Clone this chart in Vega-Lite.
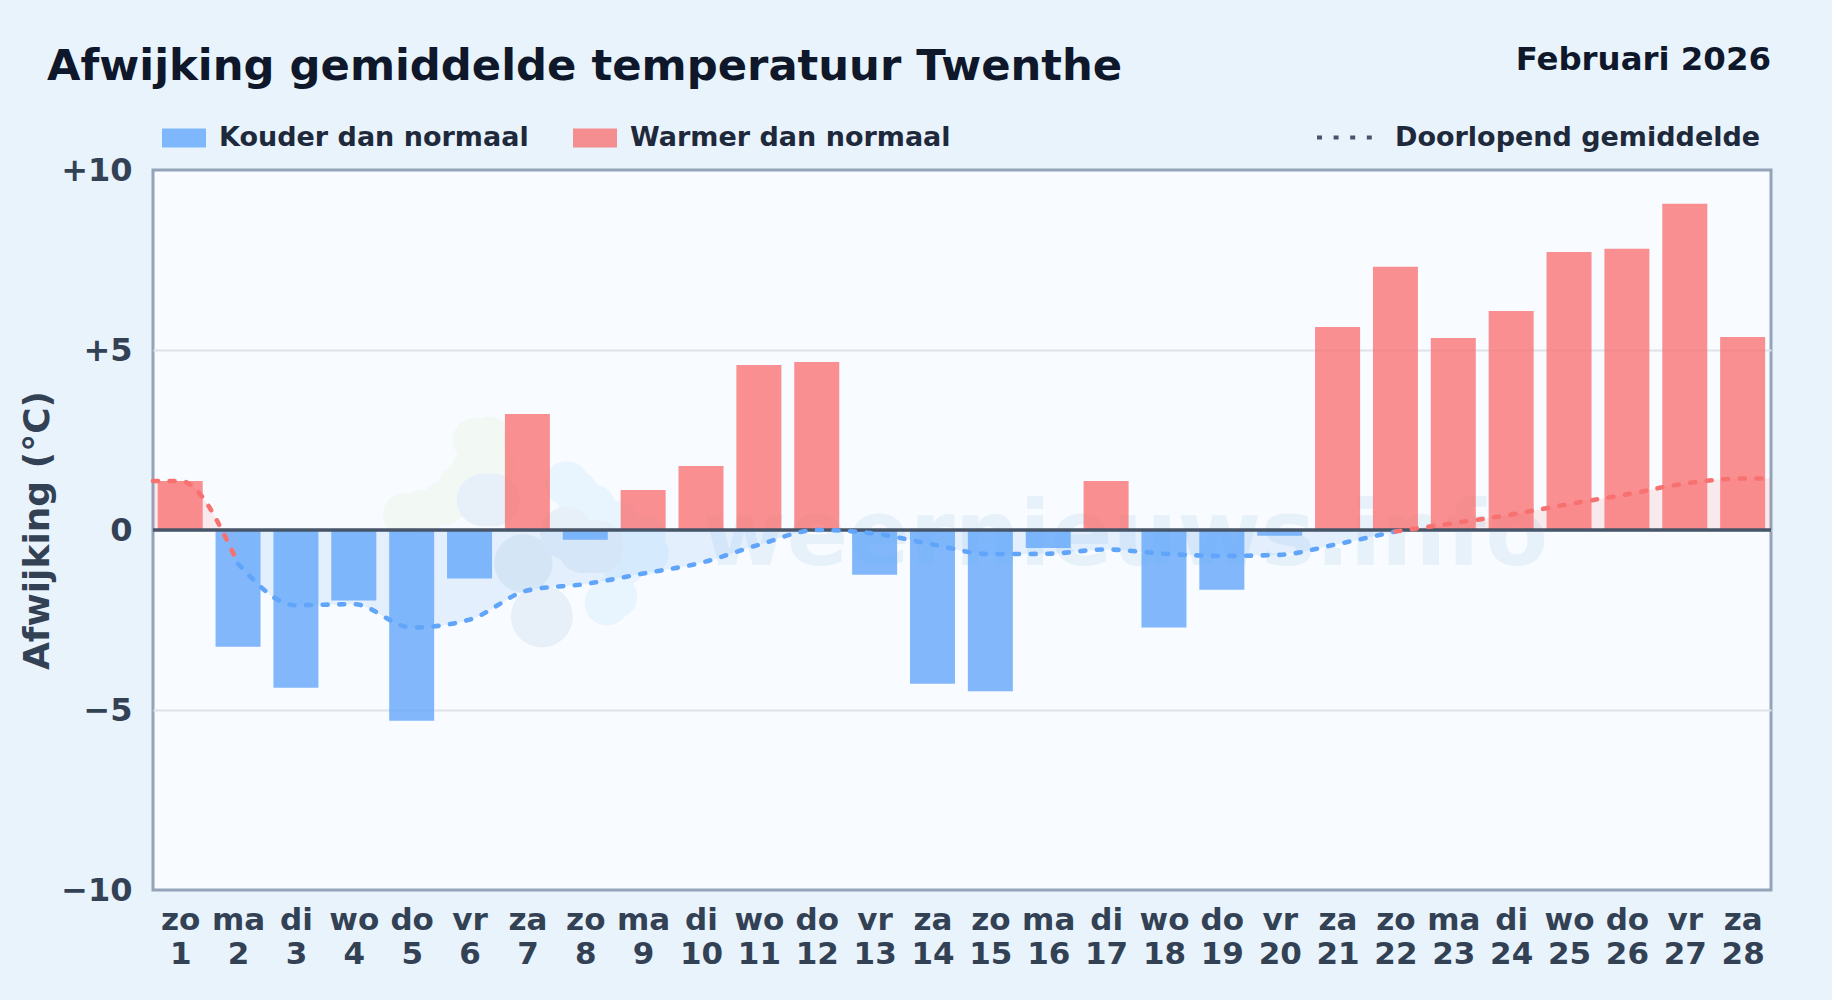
{
"$schema":"https://vega.github.io/schema/vega-lite/v6.json",
"autosize":{"type":"none"},
"width":1618,"height":720,
"padding":{"left":153,"top":170,"right":61,"bottom":110},
"background":"#e9f3fc",
"config":{"font":"DejaVu Sans","view":{"fill":"#f8fbff","stroke":"#94a3b8","strokeWidth":3},"scale":{"continuousPadding":0}},
"title":{"text":"Afwijking gemiddelde temperatuur Twenthe","anchor":"start","frame":"group","dx":-106,"offset":-79,"baseline":"alphabetic","fontSize":43.3,"fontWeight":"bold","color":"#0f172a","font":"DejaVu Sans"},
"datasets":{
"dagen":[
{"dag":1,"afwijking":1.36,"soort":"Warmer dan normaal"},
{"dag":2,"afwijking":-3.24,"soort":"Kouder dan normaal"},
{"dag":3,"afwijking":-4.38,"soort":"Kouder dan normaal"},
{"dag":4,"afwijking":-1.96,"soort":"Kouder dan normaal"},
{"dag":5,"afwijking":-5.3,"soort":"Kouder dan normaal"},
{"dag":6,"afwijking":-1.35,"soort":"Kouder dan normaal"},
{"dag":7,"afwijking":3.22,"soort":"Warmer dan normaal"},
{"dag":8,"afwijking":-0.27,"soort":"Kouder dan normaal"},
{"dag":9,"afwijking":1.11,"soort":"Warmer dan normaal"},
{"dag":10,"afwijking":1.78,"soort":"Warmer dan normaal"},
{"dag":11,"afwijking":4.58,"soort":"Warmer dan normaal"},
{"dag":12,"afwijking":4.67,"soort":"Warmer dan normaal"},
{"dag":13,"afwijking":-1.24,"soort":"Kouder dan normaal"},
{"dag":14,"afwijking":-4.27,"soort":"Kouder dan normaal"},
{"dag":15,"afwijking":-4.48,"soort":"Kouder dan normaal"},
{"dag":16,"afwijking":-0.5,"soort":"Kouder dan normaal"},
{"dag":17,"afwijking":1.36,"soort":"Warmer dan normaal"},
{"dag":18,"afwijking":-2.71,"soort":"Kouder dan normaal"},
{"dag":19,"afwijking":-1.66,"soort":"Kouder dan normaal"},
{"dag":20,"afwijking":-0.16,"soort":"Kouder dan normaal"},
{"dag":21,"afwijking":5.64,"soort":"Warmer dan normaal"},
{"dag":22,"afwijking":7.31,"soort":"Warmer dan normaal"},
{"dag":23,"afwijking":5.33,"soort":"Warmer dan normaal"},
{"dag":24,"afwijking":6.08,"soort":"Warmer dan normaal"},
{"dag":25,"afwijking":7.72,"soort":"Warmer dan normaal"},
{"dag":26,"afwijking":7.81,"soort":"Warmer dan normaal"},
{"dag":27,"afwijking":9.06,"soort":"Warmer dan normaal"},
{"dag":28,"afwijking":5.36,"soort":"Warmer dan normaal"}
],
"gemiddelde":[
{"dag":0.53,"waarde":1.36,"kleur":"warm","deel":"a"},
{"dag":1,"waarde":1.36,"kleur":"warm","deel":"a"},
{"dag":2,"waarde":-0.94,"kleur":"warm","deel":"a"},
{"dag":2,"waarde":-0.94,"kleur":"koud","deel":"b"},
{"dag":3,"waarde":-2.09,"kleur":"koud","deel":"b"},
{"dag":4,"waarde":-2.06,"kleur":"koud","deel":"b"},
{"dag":5,"waarde":-2.71,"kleur":"koud","deel":"b"},
{"dag":6,"waarde":-2.49,"kleur":"koud","deel":"b"},
{"dag":7,"waarde":-1.68,"kleur":"koud","deel":"b"},
{"dag":8,"waarde":-1.5,"kleur":"koud","deel":"b"},
{"dag":9,"waarde":-1.21,"kleur":"koud","deel":"b"},
{"dag":10,"waarde":-0.91,"kleur":"koud","deel":"b"},
{"dag":11,"waarde":-0.41,"kleur":"koud","deel":"b"},
{"dag":12,"waarde":0,"kleur":"koud","deel":"b"},
{"dag":13,"waarde":-0.1,"kleur":"koud","deel":"b"},
{"dag":14,"waarde":-0.4,"kleur":"koud","deel":"b"},
{"dag":15,"waarde":-0.67,"kleur":"koud","deel":"b"},
{"dag":16,"waarde":-0.66,"kleur":"koud","deel":"b"},
{"dag":17,"waarde":-0.54,"kleur":"koud","deel":"b"},
{"dag":18,"waarde":-0.66,"kleur":"koud","deel":"b"},
{"dag":19,"waarde":-0.72,"kleur":"koud","deel":"b"},
{"dag":20,"waarde":-0.69,"kleur":"koud","deel":"b"},
{"dag":21,"waarde":-0.39,"kleur":"koud","deel":"b"},
{"dag":22,"waarde":-0.04,"kleur":"koud","deel":"b"},
{"dag":22,"waarde":-0.04,"kleur":"warm","deel":"c"},
{"dag":23,"waarde":0.19,"kleur":"warm","deel":"c"},
{"dag":24,"waarde":0.43,"kleur":"warm","deel":"c"},
{"dag":25,"waarde":0.72,"kleur":"warm","deel":"c"},
{"dag":26,"waarde":0.99,"kleur":"warm","deel":"c"},
{"dag":27,"waarde":1.29,"kleur":"warm","deel":"c"},
{"dag":28,"waarde":1.43,"kleur":"warm","deel":"c"},
{"dag":28.49,"waarde":1.43,"kleur":"warm","deel":"c"}
]
},
"data":{"name":"dagen"},
"layer":[
{"data":{"values":[{"d":4.886,"v":0.417},{"d":5.203,"v":0.509},{"d":5.549,"v":0.741},{"d":5.837,"v":1.204},{"d":6.067,"v":1.667},{"d":6.096,"v":2.5},{"d":6.327,"v":2.546},{"d":6.413,"v":1.759}]},
 "mark":{"type":"point","filled":true,"shape":"circle","size":1963,"color":"#f2f8f4","opacity":1},
 "encoding":{
  "x":{"field":"d","type":"quantitative","scale":{"domain":[0.53,28.49],"nice":false,"zero":false},
   "axis":{"values":[1,2,3,4,5,6,7,8,9,10,11,12,13,14,15,16,17,18,19,20,21,22,23,24,25,26,27,28],"title":null,"grid":false,"ticks":false,"domain":false,"labelFontSize":31,"labelFontWeight":"bold","labelColor":"#334155","labelPadding":15,"labelLineHeight":34,"labelOverlap":false,"labelFlush":false,"labelBound":false,
   "labelExpr":"[['zo','ma','di','wo','do','vr','za'][(datum.value-1)%7], ''+datum.value]"}},
  "y":{"field":"v","type":"quantitative","scale":{"domain":[-10,10],"nice":false},
   "axis":{"values":[-10,-5,0,5,10],"title":"Afwijking (°C)","titleFontSize":36,"titleFontWeight":"bold","titleColor":"#334155","titlePadding":4,"grid":true,"gridColor":{"condition":{"test":"abs(datum.value)==10","value":"transparent"},"value":"#dde3e8"},"gridWidth":2,"ticks":false,"domain":false,"labelFontSize":32,"labelFontWeight":"bold","labelColor":"#334155","labelPadding":21,
   "labelExpr":"datum.value>0?'+'+datum.value:(datum.value<0?'−'+abs(datum.value):'0')"}}}},
{"data":{"values":[{"d":6.931,"v":-0.926}]},
 "mark":{"type":"point","filled":true,"shape":"circle","size":3400,"color":"#e6f0f5","opacity":1},
 "encoding":{"x":{"field":"d","type":"quantitative"},"y":{"field":"v","type":"quantitative"}}},
{"data":{"values":[{"d":7.68,"v":1.296},{"d":7.853,"v":1.019},{"d":8.141,"v":0.648},{"d":8.545,"v":0.185},{"d":9.006,"v":-0.185},{"d":9.063,"v":-0.648},{"d":8.372,"v":-2.037},{"d":8.516,"v":-1.852},{"d":8.66,"v":-0.926}]},
 "mark":{"type":"point","filled":true,"shape":"circle","size":1963,"color":"#e8f5fe","opacity":1},
 "encoding":{"x":{"field":"d","type":"quantitative"},"y":{"field":"v","type":"quantitative"}}},
{"data":{"values":[{"d":6.413,"v":0.833},{"d":6.24,"v":0.833},{"d":7.969,"v":-0.463},{"d":7.68,"v":-0.09},{"d":8.2,"v":-0.46}]},
 "mark":{"type":"point","filled":true,"shape":"circle","size":2830,"color":"#e7f0f9","opacity":1},
 "encoding":{"x":{"field":"d","type":"quantitative"},"y":{"field":"v","type":"quantitative"}}},
{"data":{"values":[{"d":7.25,"v":-2.4}]},
 "mark":{"type":"point","filled":true,"shape":"circle","size":3850,"color":"#e7f0f9","opacity":1},
 "encoding":{"x":{"field":"d","type":"quantitative"},"y":{"field":"v","type":"quantitative"}}},
{"data":{"values":[{"t":"weernieuws.info"}]},
 "mark":{"type":"text","fontSize":91,"fontWeight":"bold","color":"#e6f1fa","align":"center","baseline":"alphabetic"},
 "encoding":{"text":{"field":"t"},"x":{"datum":17.33,"type":"quantitative"},"y":{"datum":-0.97,"type":"quantitative"}}},
{"data":{"name":"gemiddelde"},
 "mark":{"type":"area","orient":"vertical","interpolate":"monotone","fillOpacity":0.13},
 "encoding":{"x":{"field":"dag","type":"quantitative"},"y":{"field":"waarde","type":"quantitative","stack":null},"y2":{"datum":0},
  "fill":{"field":"kleur","type":"nominal","legend":null,"scale":{"domain":["koud","warm"],"range":["#60a5fa","#f87171"]}},"detail":{"field":"deel"}}},
{"mark":{"type":"bar","orient":"vertical","width":45,"opacity":0.78},
 "encoding":{
  "x":{"field":"dag","type":"quantitative"},
  "y":{"field":"afwijking","type":"quantitative","stack":null},
  "color":{"field":"soort","type":"nominal","title":null,"scale":{"domain":["Kouder dan normaal","Warmer dan normaal"],"range":["#60a5fa","#f87171"]},
   "legend":{"orient":"none","legendX":9,"legendY":-54,"direction":"horizontal","columns":2,"padding":0,"symbolType":"M-1,-.43H1V.43H-1Z","symbolSize":1936,"symbolOpacity":0.78,"symbolStrokeWidth":0,"labelFontSize":27,"labelFontWeight":"bold","labelColor":"#1e293b","labelOffset":13,"columnPadding":44,"labelLimit":500,"gridAlign":"each"}}
 }},
{"data":{"values":[{"n":0}]},"mark":{"type":"rule","color":"#475569","strokeWidth":3.6},
 "encoding":{"y":{"field":"n","type":"quantitative"}}},
{"data":{"name":"gemiddelde"},
 "mark":{"type":"line","interpolate":"monotone","strokeWidth":4.6,"strokeCap":"round"},
 "encoding":{"x":{"field":"dag","type":"quantitative"},"y":{"field":"waarde","type":"quantitative"},
  "stroke":{"field":"kleur","type":"nominal","legend":null,"scale":{"domain":["koud","warm"],"range":["#60a5fa","#f87171"]}},"detail":{"field":"deel"},
  "strokeDash":{"datum":"Doorlopend gemiddelde","title":null,"scale":{"domain":["Doorlopend gemiddelde"],"range":[[5,11.6]]},
   "legend":{"orient":"none","legendX":1162,"legendY":-62,"padding":0,"symbolType":"stroke","symbolSize":3025,"symbolStrokeColor":"#475569","symbolStrokeWidth":4,"labelFontSize":27,"labelFontWeight":"bold","labelColor":"#1e293b","labelOffset":21,"labelLimit":500}}}},
{"data":{"values":[{"t":"Februari 2026"}]},
 "mark":{"type":"text","fontSize":32.4,"fontWeight":"bold","color":"#0f172a","align":"right","baseline":"alphabetic"},
 "encoding":{"text":{"field":"t"},"x":{"datum":28.49,"type":"quantitative"},"y":{"datum":12.78,"type":"quantitative"}}}
]
}
